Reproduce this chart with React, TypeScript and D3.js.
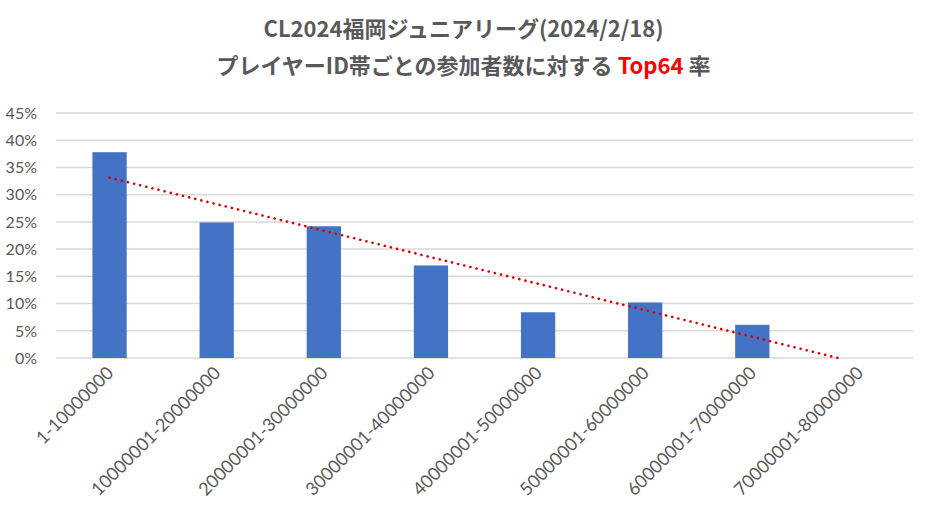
import { useEffect, useRef } from "react"
import * as d3 from "d3"

const categories = [
  "1-10000000",
  "10000001-20000000",
  "20000001-30000000",
  "30000001-40000000",
  "40000001-50000000",
  "50000001-60000000",
  "60000001-70000000",
  "70000001-80000000",
]
const top64Rate = [0.378, 0.249, 0.242, 0.17, 0.084, 0.102, 0.061, 0]
const yTicks = [0, 0.05, 0.1, 0.15, 0.2, 0.25, 0.3, 0.35, 0.4, 0.45]

export default function App() {
  const svgRef = useRef<SVGSVGElement>(null)

  useEffect(() => {
    document.body.style.margin = "0"
    if (!svgRef.current) return
    d3.select(svgRef.current).selectAll("*").remove()

    const width = 927
    const height = 509
    const margin = { top: 113, right: 14, bottom: 151, left: 56 }
    const gray = "#595959"
    const axisFont = "Lato, 'Open Sans', sans-serif"

    const svg = d3.select(svgRef.current).attr("width", width).attr("height", height)
    svg.append("rect").attr("width", width).attr("height", height).attr("fill", "white")

    const x = d3
      .scaleBand()
      .domain(categories)
      .range([margin.left, width - margin.right])
      .padding(0)
    const y = d3
      .scaleLinear()
      .domain([0, 0.45])
      .range([height - margin.bottom, margin.top])

    // Title
    const title = svg
      .append("text")
      .attr("text-anchor", "middle")
      .style("font-family", "'Noto Sans CJK JP', sans-serif")
      .style("font-weight", "bold")
      .style("font-size", "22px")
      .style("fill", gray)
    title.append("tspan").attr("x", width / 2).attr("y", 37).text("CL2024福岡ジュニアリーグ(2024/2/18)")
    const line2 = title.append("tspan").attr("x", width / 2).attr("y", 74)
    line2.append("tspan").text("プレイヤーID帯ごとの参加者数に対する ")
    line2.append("tspan").style("fill", "#FF0000").text("Top64")
    line2.append("tspan").text(" 率")

    // Gridlines
    svg
      .append("g")
      .selectAll("line")
      .data(yTicks)
      .enter()
      .append("line")
      .attr("x1", margin.left)
      .attr("x2", width - margin.right)
      .attr("y1", (d) => y(d))
      .attr("y2", (d) => y(d))
      .attr("stroke", "#d9d9d9")
      .attr("stroke-width", 1.5)

    // Y labels
    svg
      .append("g")
      .selectAll("text")
      .data(yTicks)
      .enter()
      .append("text")
      .attr("x", 37)
      .attr("y", (d) => y(d))
      .attr("dy", "0.36em")
      .attr("text-anchor", "end")
      .style("font-family", axisFont)
      .style("font-size", "16px")
      .style("fill", gray)
      .text((d) => d3.format(".0%")(d))

    // Bars
    const barW = x.bandwidth() * 0.32
    svg
      .append("g")
      .selectAll("rect")
      .data(top64Rate)
      .enter()
      .append("rect")
      .attr("x", (d, i) => (x(categories[i]) || 0) + (x.bandwidth() - barW) / 2)
      .attr("width", barW)
      .attr("y", (d) => y(d))
      .attr("height", (d) => y(0) - y(d))
      .attr("fill", "#4472C4")

    // Linear trendline (least squares), clipped at 0
    const n = top64Rate.length
    const xs = d3.range(1, n + 1)
    const mx = d3.mean(xs) as number
    const my = d3.mean(top64Rate) as number
    const slope =
      d3.sum(xs, (xi, i) => (xi - mx) * (top64Rate[i] - my)) / d3.sum(xs, (xi) => (xi - mx) ** 2)
    const intercept = my - slope * mx
    const xEnd = Math.min(n, -intercept / slope)
    const idxToPx = (k: number) =>
      (x(categories[0]) || 0) + x.bandwidth() / 2 + (k - 1) * x.step()
    svg
      .append("line")
      .attr("x1", idxToPx(1))
      .attr("y1", y(intercept + slope))
      .attr("x2", idxToPx(xEnd))
      .attr("y2", y(Math.max(0, intercept + slope * xEnd)))
      .attr("stroke", "#E00000")
      .attr("stroke-width", 2.6)
      .attr("stroke-linecap", "round")
      .attr("stroke-dasharray", "0.1 6.2")

    // X labels
    svg
      .append("g")
      .selectAll("text")
      .data(categories)
      .enter()
      .append("text")
      .attr("text-anchor", "end")
      .attr(
        "transform",
        (d) => `translate(${(x(d) || 0) + x.bandwidth() / 2 + 5},${y(0) + 16}) rotate(-45)`
      )
      .style("font-family", axisFont)
      .style("font-size", "18px")
      .style("fill", gray)
      .text((d) => d)
  }, [])

  return <svg ref={svgRef} style={{ display: "block" }}></svg>
}
